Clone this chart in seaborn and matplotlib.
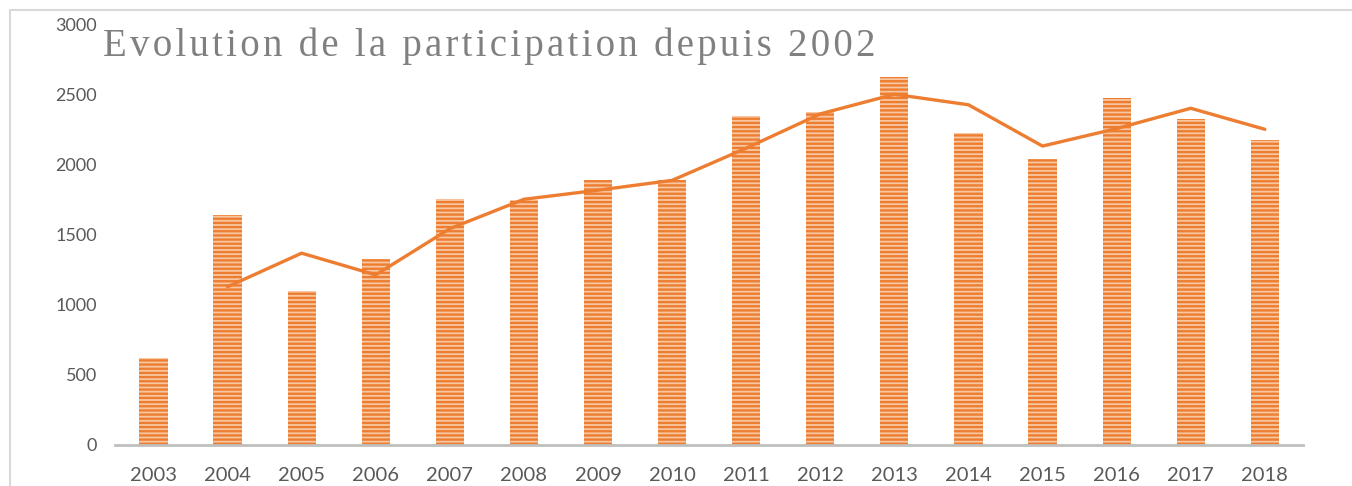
import matplotlib.pyplot as plt
import seaborn as sns
from matplotlib.patches import Rectangle

YEARS = [2003, 2004, 2005, 2006, 2007, 2008, 2009, 2010,
         2011, 2012, 2013, 2014, 2015, 2016, 2017, 2018]
PARTICIPANTS = [620, 1640, 1100, 1330, 1760, 1750, 1890, 1890,
                2350, 2380, 2630, 2230, 2040, 2480, 2330, 2180]
# trend line (starts in 2004)
TREND_YEARS = YEARS[1:]
TREND = [1130, 1370, 1215, 1545, 1755, 1820, 1890, 2120,
         2365, 2505, 2430, 2135, 2260, 2405, 2255]
Y_TICKS = [0, 500, 1000, 1500, 2000, 2500, 3000]
TITLE = "Evolution de la participation depuis 2002"

ORANGE = "#ED7D31"

sns.set_style("white")
plt.rcParams['font.family'] = ['Lato', 'DejaVu Sans']
plt.rcParams['hatch.linewidth'] = 1.7

fig = plt.figure(figsize=(13.52, 4.86), dpi=100)
ax = fig.add_axes([0.085, 0.0844, 0.879, 0.8642])

sns.barplot(x=YEARS, y=PARTICIPANTS, native_scale=True, width=0.38,
            color="#F8C7A2", ax=ax, errorbar=None)
for bar in ax.patches:
    bar.set_facecolor("#F8C7A2")
    bar.set_edgecolor(ORANGE)
    bar.set_hatch("----")
    bar.set_linewidth(0)

sns.lineplot(x=TREND_YEARS, y=TREND, color=ORANGE, linewidth=2.4, ax=ax)

ax.set_ylim(0, 3000)
ax.set_xlim(YEARS[0] - 0.52, YEARS[-1] + 0.52)
ax.set_yticks(Y_TICKS)
ax.set_yticklabels([str(v) for v in Y_TICKS], fontsize=13, color="#595959")
ax.set_xticks(YEARS)
ax.set_xticklabels([str(y) for y in YEARS], fontsize=14.5, color="#595959")
ax.tick_params(axis='y', length=0, pad=13)
ax.tick_params(axis='x', length=0, pad=16)
ax.set_xlabel("")
ax.set_ylabel("")

for side in ['top', 'right', 'left']:
    ax.spines[side].set_visible(False)
ax.spines['bottom'].set_color("#BFBFBF")
ax.spines['bottom'].set_linewidth(2)

# chart border
fig.patches.append(Rectangle((10 / 1352, -0.2), 1.2, 0.2 + 476 / 486,
                             transform=fig.transFigure, fill=False,
                             edgecolor="#D9D9D9", linewidth=1.5, clip_on=False))

spaced = "\u200a \u200a".join("\u200a".join(word) for word in TITLE.split(" "))
fig.text(103 / 1352, (486 - 56) / 486, spaced, fontsize=28, color="#808080",
         family=['Liberation Serif', 'DejaVu Serif'], va='baseline', ha='left')

fig.savefig("out.png", dpi=100)
